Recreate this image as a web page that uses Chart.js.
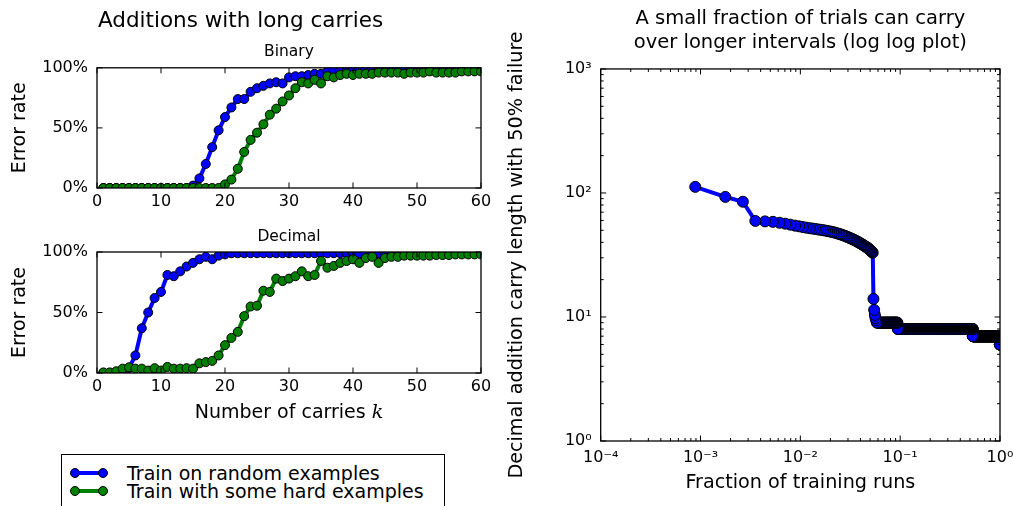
<!DOCTYPE html>
<html><head><meta charset="utf-8">
<script src="https://cdn.jsdelivr.net/npm/chart.js@4.4.1/dist/chart.umd.min.js"></script>
<style>
html,body{margin:0;padding:0;background:#fff;width:1013px;height:506px;overflow:hidden;font-family:"DejaVu Sans",sans-serif;color:#000;}
canvas{position:absolute;}
#c1{left:0;top:0}
#c2{left:0;top:215px}
#c3{left:500px;top:0}
#xlab{position:absolute;left:97px;width:384px;top:399px;text-align:center;font-size:19px;line-height:24px;white-space:nowrap;}
#xlab i{font-family:"DejaVu Serif",serif;}
#legend{position:absolute;left:61px;top:454px;width:382px;height:70px;border:1.3px solid #000;background:#fff;}
.lrow{position:absolute;left:0;height:20px;width:380px;}
.lrow svg{position:absolute;left:0;top:0;}
.lrow span{position:absolute;left:65px;top:0;font-size:19px;line-height:20px;white-space:nowrap;}
</style></head>
<body>
<canvas id="c1" width="500" height="215"></canvas>
<canvas id="c2" width="500" height="185"></canvas>
<canvas id="c3" width="513" height="506"></canvas>
<div id="xlab">Number of carries <i>k</i></div>
<div id="legend"></div>
<script>
// ---------- data ----------
const carries = [1,2,3,4,5,6,7,8,9,10,11,12,13,14,15,16,17,18,19,20,21,22,23,24,25,26,27,28,29,30,
  31,32,33,34,35,36,37,38,39,40,41,42,43,44,45,46,47,48,49,50,51,52,53,54,55,56,57,58,59,60];
const seriesNames = ['Train on random examples', 'Train with some hard examples'];
const binaryRandom = [0,0,0,0,0,0,0,0,0,0,0,0,0,0,2,8,20,34,48,59,67,74,74,80,83,85,87,88,87,92,
  93,93,94,95,95,97,98,98,99,99,99,100,100,100,100,100,100,100,100,100,100,100,100,100,100,100,100,100,100,100];
const binaryHard = [0,0,0,0,0,0,0,0,0,0,0,0,0,0,0,0,0,0,0,3,7,16,30,40,46,53,61,66,72,77,
  83,88,87,90,87,93,92,94,95,94,95,95,95,96,96,96,96,95,96,96,96,97,96,96,96,96,97,97,97,97];
const decimalRandom = [0,0,0,0.5,4,14.5,37,50,62,67,81,80,84,88,91,94,96,94,97,98,
  99,99,99,99,99,99,99,99,99,99,99,99,99,99,99,99,99,99,99,99,99,99,99,99,99,100,100,100,100,100,100,100,100,100,100,100,100,100,100,100];
const decimalHard = [0.5,0.5,1.4,3.6,4.7,3.6,3.6,2,4,2,5,3.6,3.6,4,3.6,8,9,10,14.5,23,
  29,34,47,55,55.6,68,67,78,76,78,80,84,80,81,92.6,87,88.5,91,92.6,94,91,95,96,91,95,96,96,97,97,97,
  97,97,97.5,97.5,97.5,98,98,98,98,98];

const xTicksLeft = [0,10,20,30,40,50,60];
const yTicksLeft = [0,50,100];

// right panel: carry lengths of training runs sorted longest first
const totalRuns = 1130;
const topCarryLengths = [112,93,85,59.5,59,58.5,57.5,56.5,55.5,54.5,53.8,53.1,52.5,52,51.6,51.2,50.8,50.5,50.1,49.8,
  49.4,49,48.7,48.3,47.9,47.4,47,46.6,46.2,45.7,45.3,44.9,44.4,44,43.5,43.1,42.7,42.3,41.8,41.4,
  41,40.6,40.1,39.7,39.3,38.9,38.5,38.1,37.7,37.3,36.9,36.5,36.2,35.9,35.4,34.9,34.4,34,33.5,33,
  14,11.4,10.4,9.8,9.4];
const plateauLengths = [9, 8, 7, 6];
const plateauRuns = [41, 496, 522, 6];
const xTicksRight = [1e-4, 1e-3, 1e-2, 1e-1, 1];
const yTicksRight = [1, 10, 100, 1000];

// ---------- helpers ----------
const FONT = 'DejaVu Sans';
const BLUE = '#0000ff', GREEN = '#008000';
Chart.defaults.font.family = FONT;
Chart.defaults.color = '#000';

const frameTicks = {
  id: 'frameTicks',
  afterDatasetsDraw(chart, args, o) {
    const {ctx, chartArea: a, scales: {x, y}} = chart;
    ctx.save();
    ctx.strokeStyle = '#000';
    ctx.lineWidth = 1;
    const seg = (x1, y1, x2, y2) => { ctx.beginPath(); ctx.moveTo(x1, y1); ctx.lineTo(x2, y2); ctx.stroke(); };
    const drawX = (vals, len) => vals.forEach(v => { const p = x.getPixelForValue(v); seg(p, a.bottom, p, a.bottom - len); seg(p, a.top, p, a.top + len); });
    const drawY = (vals, len) => vals.forEach(v => { const p = y.getPixelForValue(v); seg(a.left, p, a.left + len, p); seg(a.right, p, a.right - len, p); });
    drawX(o.xMajor || [], 5.5); drawX(o.xMinor || [], 3);
    drawY(o.yMajor || [], 5.5); drawY(o.yMinor || [], 3);
    ctx.lineWidth = 1.3;
    ctx.strokeRect(a.left, a.top, a.right - a.left, a.bottom - a.top);
    ctx.restore();
  }
};

function ds(label, values, color, order, radius) {
  return {
    label, data: values, borderColor: color, backgroundColor: color,
    pointBackgroundColor: color, pointBorderColor: '#000', pointBorderWidth: 1,
    pointRadius: radius, borderWidth: 4, order, clip: 0, tension: 0,
    borderJoinStyle: 'round'
  };
}

function leftChart(id, title, subtitle, random, hard, titlePad, subPad) {
  const pts = arr => carries.map((k, i) => ({x: k, y: arr[i]}));
  return new Chart(document.getElementById(id), {
    type: 'line',
    data: {datasets: [
      ds(seriesNames[0], pts(random), BLUE, 1, 4.5),
      ds(seriesNames[1], pts(hard), GREEN, 0, 4.5)
    ]},
    plugins: [frameTicks],
    options: {
      responsive: false, animation: false, events: [],
      layout: {padding: {left: 0, right: 19, top: 0, bottom: 0}, autoPadding: false},
      plugins: {
        legend: {display: false}, tooltip: {enabled: false},
        title: title ? {display: true, text: title, font: {size: 21.5, weight: 'normal'}, color: '#000', padding: titlePad, fullSize: true} : {display: false},
        subtitle: {display: true, text: subtitle, font: {size: 15.5, weight: 'normal'}, color: '#000', padding: subPad, fullSize: false},
        frameTicks: {xMajor: xTicksLeft, yMajor: yTicksLeft}
      },
      scales: {
        x: {type: 'linear', min: 0, max: 60,
            grid: {display: false, drawTicks: false}, border: {display: false},
            afterBuildTicks(s) { s.ticks = xTicksLeft.map(v => ({value: v})); },
            ticks: {font: {size: 16}, color: '#000', padding: 4, maxRotation: 0, autoSkip: false},
            afterFit(s) { s.height = 27; s.paddingLeft = 0; s.paddingRight = 0; }},
        y: {type: 'linear', min: 0, max: 100,
            grid: {display: false, drawTicks: false}, border: {display: false},
            afterBuildTicks(s) { s.ticks = yTicksLeft.map(v => ({value: v})); },
            ticks: {callback: v => v + '%', font: {size: 16}, color: '#000', padding: 9, autoSkip: false},
            title: {display: true, text: 'Error rate', font: {size: 19}, color: '#000', padding: {top: 8.5, bottom: 0}},
            afterFit(s) { s.width = 97; s.paddingTop = 0; s.paddingBottom = 0; }}
      }
    }
  });
}

leftChart('c1', 'Additions with long carries', 'Binary', binaryRandom, binaryHard, {top: 8.5, bottom: 0}, {top: 8.8, bottom: 6.1});
leftChart('c2', null, 'Decimal', decimalRandom, decimalHard, null, {top: 12.3, bottom: 6.1});

// right panel points (rank / totalRuns), drawn from the last run to the first
const rightPoints = [];
{
  const lengths = topCarryLengths.slice();
  plateauLengths.forEach((len, j) => { for (let n = 0; n < plateauRuns[j]; n++) lengths.push(len); });
  for (let r = lengths.length; r >= 1; r--) rightPoints.push({x: r / totalRuns, y: lengths[r - 1]});
}
const SUP = {'0':'⁰','1':'¹','2':'²','3':'³','4':'⁴','5':'⁵','6':'⁶','7':'⁷','8':'⁸','9':'⁹','-':'⁻'};
const powLabel = v => '10' + String(Math.round(Math.log10(v))).split('').map(c => SUP[c]).join('');
const minorLog = (lo, hi) => { const out = []; for (let e = lo; e < hi; e++) for (let m = 2; m <= 9; m++) out.push(m * Math.pow(10, e)); return out; };

new Chart(document.getElementById('c3'), {
  type: 'line',
  data: {datasets: [ds(seriesNames[0], rightPoints, BLUE, 0, 5.5)]},
  plugins: [frameTicks],
  options: {
    responsive: false, animation: false, events: [],
    layout: {padding: {left: 0, right: 13, top: 0, bottom: 0}, autoPadding: false},
    plugins: {
      legend: {display: false}, tooltip: {enabled: false},
      title: {display: true, text: ['A small fraction of trials can carry', 'over longer intervals (log log plot)'],
              font: {size: 19.5, weight: 'normal', lineHeight: 1.25}, color: '#000', padding: {top: 6.3, bottom: 13.9}, fullSize: false},
      frameTicks: {xMajor: xTicksRight, xMinor: minorLog(-4, 0), yMajor: yTicksRight, yMinor: minorLog(0, 3)}
    },
    scales: {
      x: {type: 'logarithmic', min: 1e-4, max: 1,
          grid: {display: false, drawTicks: false}, border: {display: false},
          afterBuildTicks(s) { s.ticks = xTicksRight.map(v => ({value: v})); },
          ticks: {callback: v => powLabel(v), font: {size: 16}, color: '#000', padding: 7, maxRotation: 0, autoSkip: false},
          title: {display: true, text: 'Fraction of training runs', font: {size: 19.2}, color: '#000', padding: {top: 0, bottom: 11.5}},
          afterFit(s) { s.height = 65; s.paddingLeft = 0; s.paddingRight = 0; }},
      y: {type: 'logarithmic', min: 1, max: 1000,
          grid: {display: false, drawTicks: false}, border: {display: false},
          afterBuildTicks(s) { s.ticks = yTicksRight.map(v => ({value: v})); },
          ticks: {callback: v => powLabel(v), font: {size: 16}, color: '#000', padding: 9, autoSkip: false},
          title: {display: true, text: 'Decimal addition carry length with 50% failure', font: {size: 19.2}, color: '#000', padding: {top: 5, bottom: 0}},
          afterFit(s) { s.width = 100.7; s.paddingTop = 0; s.paddingBottom = 0; }}
    }
  }
});

// legend (HTML)
const legend = document.getElementById('legend');
[[BLUE, seriesNames[0], 8], [GREEN, seriesNames[1], 26]].forEach(([c, t, top]) => {
  const row = document.createElement('div');
  row.className = 'lrow'; row.style.top = top + 'px';
  row.innerHTML = '<svg width="60" height="20"><line x1="13" y1="10" x2="41" y2="10" stroke="' + c + '" stroke-width="4"/>' +
    '<circle cx="13" cy="10" r="4.5" fill="' + c + '" stroke="#000" stroke-width="1"/>' +
    '<circle cx="41" cy="10" r="4.5" fill="' + c + '" stroke="#000" stroke-width="1"/></svg><span>' + t + '</span>';
  legend.appendChild(row);
});
</script>
</body></html>
